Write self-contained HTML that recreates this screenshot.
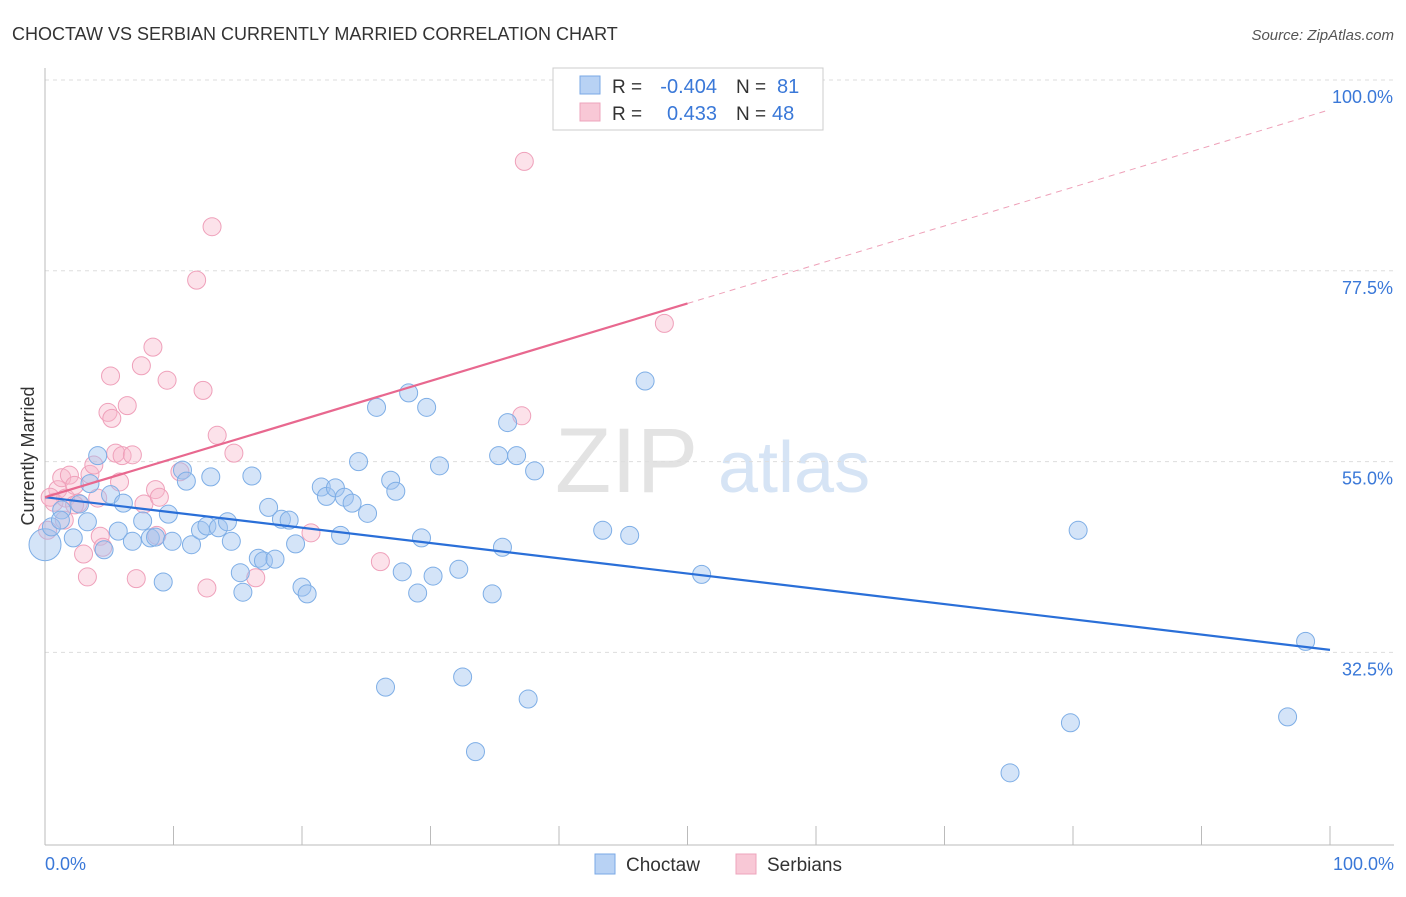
<!DOCTYPE html>
<html><head><meta charset="utf-8"><style>
body{margin:0;background:#fff;font-family:"Liberation Sans",sans-serif}
svg text{font-family:"Liberation Sans",sans-serif}
</style></head><body>
<svg id="chart" width="1406" height="892" viewBox="0 0 1406 892" xmlns="http://www.w3.org/2000/svg">
<text x="12" y="40" font-size="18" fill="#333">CHOCTAW VS SERBIAN CURRENTLY MARRIED CORRELATION CHART</text>
<text x="1394" y="40" font-size="15" fill="#555" font-style="italic" text-anchor="end">Source: ZipAtlas.com</text>
<text x="555" y="492" font-size="92" fill="#e3e3e3" font-family="Liberation Serif">ZIP</text>
<text x="718" y="492" font-size="72" fill="#d6e4f5">atlas</text>
<g id="grid"></g>
<g id="axes"></g>
<g id="marks"></g>
<text transform="translate(34,456) rotate(-90)" font-size="18" fill="#333" text-anchor="middle">Currently Married</text>
<text x="45" y="870" font-size="18" fill="#3a78d8">0.0%</text>
<text x="1394" y="870" font-size="18" fill="#3a78d8" text-anchor="end">100.0%</text>
<g>
<rect x="553" y="68" width="270" height="62" fill="#fff" stroke="#ccc"/>
<rect x="580" y="76" width="20" height="18" fill="#b8d2f4" stroke="#7aa8e6"/>
<rect x="580" y="103" width="20" height="18" fill="#f8c8d6" stroke="#eea4bc"/>
<text x="612" y="93" font-size="19" fill="#333">R =</text>
<text x="717" y="93" font-size="20" fill="#3a78d8" text-anchor="end">-0.404</text>
<text x="736" y="93" font-size="19" fill="#333">N =</text>
<text x="777" y="93" font-size="20" fill="#3a78d8">81</text>
<text x="612" y="120" font-size="19" fill="#333">R =</text>
<text x="717" y="120" font-size="20" fill="#3a78d8" text-anchor="end">0.433</text>
<text x="736" y="120" font-size="19" fill="#333">N =</text>
<text x="772" y="120" font-size="20" fill="#3a78d8">48</text>
</g>
<g>
<rect x="595" y="854" width="20" height="20" fill="#b8d2f4" stroke="#7aa8e6"/>
<text x="626" y="871" font-size="19" fill="#333">Choctaw</text>
<rect x="736" y="854" width="20" height="20" fill="#f8c8d6" stroke="#eea4bc"/>
<text x="767" y="871" font-size="19" fill="#333">Serbians</text>
</g>
</svg>
<script>
const yTicks=[100,77.5,55,32.5];
const yTickLabels=["100.0%","77.5%","55.0%","32.5%"];
const xTicks=[0,10,20,30,40,50,60,70,80,90,100];
const choctawX=[4.1,5.1,6.1,3.3,1.3,2.2,4.6,5.7,6.8,7.6,8.2,8.6,9.6,9.9,9.2,10.7,11.0,11.4,12.1,12.6,12.9,13.5,14.2,14.5,15.2,15.4,16.1,16.6,17.0,17.4,17.9,18.4,19.0,19.5,20.0,20.4,21.5,21.9,22.6,23.0,23.3,23.9,24.4,25.1,25.8,26.5,26.9,27.3,27.8,28.3,29.0,29.3,29.7,30.2,30.7,32.2,32.5,33.5,34.8,35.3,35.6,36.0,36.7,37.6,38.1,43.4,45.5,46.7,51.1,75.1,79.8,80.4,96.7,98.1,0.5,1.2,2.7,3.5];
const choctawY=[55.7,51.1,50.1,47.9,49.3,46.0,44.6,46.8,45.6,48.0,46.0,46.1,48.8,45.6,40.8,54.0,52.7,45.2,46.9,47.4,53.2,47.2,47.9,45.6,41.9,39.6,53.3,43.6,43.3,49.6,43.5,48.2,48.1,45.3,40.2,39.4,52.0,50.9,51.9,46.3,50.8,50.1,55.0,48.9,61.4,28.4,52.8,51.5,42.0,63.1,39.5,46.0,61.4,41.5,54.5,42.3,29.6,20.8,39.4,55.7,44.9,59.6,55.7,27.0,53.9,46.9,46.3,64.5,41.7,18.3,24.2,46.9,24.9,33.8,47.3,48.1,50.0,52.4];
const serbX=[0.2,0.7,1.0,1.3,1.6,1.9,2.3,2.6,3.0,3.3,3.5,3.8,4.1,4.3,4.5,4.9,5.1,5.2,5.5,5.8,6.0,6.4,6.8,7.1,7.5,7.7,8.4,8.6,8.7,8.9,9.5,10.5,11.8,12.3,12.6,13.0,13.4,14.7,16.4,20.7,26.1,37.1,37.3,48.2,1.5,2.3,0.4];
const serbY=[46.9,50.2,51.7,53.1,50.7,53.4,52.2,50.1,44.1,41.4,53.5,54.6,50.7,46.2,44.9,60.8,65.1,60.1,56.0,52.6,55.7,61.6,55.8,41.2,66.3,50.0,68.5,51.7,46.3,50.8,64.6,53.8,76.4,63.4,40.1,82.7,58.1,56.0,41.3,46.6,43.2,60.4,90.4,71.3,48.1,49.9,50.8];
const blueTrend=[50.8,32.8];
const pinkTrend=[50.8,96.5];
const NS="http://www.w3.org/2000/svg";
const X0=45,X1=1330,YTOP=80,PX=8.48;
function sx(v){return X0+(X1-X0)*v/100;}
function sy(v){return YTOP+(100-v)*PX;}
function mk(t,a,p){const e=document.createElementNS(NS,t);for(const k in a)e.setAttribute(k,a[k]);p.appendChild(e);return e;}
const grid=document.getElementById('grid'),axes=document.getElementById('axes'),marks=document.getElementById('marks');
yTicks.forEach((v,i)=>{
 const l=mk('line',{x1:X0,x2:1394,y1:sy(v),y2:sy(v),stroke:'#ddd','stroke-dasharray':'4,4'},grid);
 
 
 const t=mk('text',{x:1393,y:sy(v)+23,'font-size':18,fill:'#3a78d8','text-anchor':'end'},grid);
 t.textContent=yTickLabels[i];
 
 
});
const ax=mk('line',{x1:X0,x2:X0,y1:68,y2:845,stroke:'#bbb'},axes);


const bx=mk('line',{x1:X0,x2:1394,y1:845,y2:845,stroke:'#bbb'},axes);


xTicks.forEach(v=>{
 const t=mk('line',{x1:sx(v),x2:sx(v),y1:826,y2:845,stroke:'#bbb'},axes);
 
 
});
function dot(x,y,blue,r){
 const c=mk('circle',{cx:sx(x),cy:sy(y),r:r,fill:blue?'rgba(160,196,240,0.45)':'rgba(248,182,202,0.4)',stroke:blue?'#7eaee6':'#efa0ba','stroke-width':1},marks);
 
 
}
serbX.forEach((x,i)=>dot(x,serbY[i],false,9));
dot(0,45.2,true,16);
choctawX.forEach((x,i)=>dot(x,choctawY[i],true,9));
const bl=mk('line',{x1:sx(0),y1:sy(blueTrend[0]),x2:sx(100),y2:sy(blueTrend[1]),stroke:'#2a6fd8','stroke-width':2.2},marks);


const pm=pinkTrend[0]+(pinkTrend[1]-pinkTrend[0])*0.5;
const pl=mk('line',{x1:sx(0),y1:sy(pinkTrend[0]),x2:sx(50),y2:sy(pm),stroke:'#e8688f','stroke-width':2.2},marks);


const pd=mk('line',{x1:sx(50),y1:sy(pm),x2:sx(100),y2:sy(pinkTrend[1]),stroke:'#eea0b8','stroke-width':1,'stroke-dasharray':'6,5'},marks);


</script>
</body></html>
